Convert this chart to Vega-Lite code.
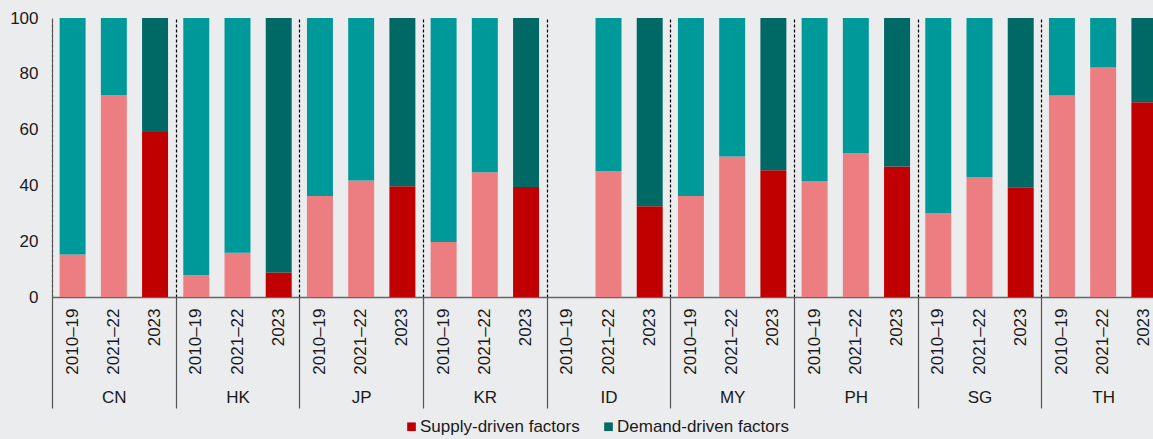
{
  "$schema": "https://vega.github.io/schema/vega-lite/v6.json",
  "autosize": "none",
  "width": 1101,
  "height": 279,
  "padding": {"left": 52, "top": 18, "right": 0, "bottom": 142},
  "background": "#ebecee",
  "config": {
    "font": "Liberation Sans",
    "view": {"stroke": null},
    "axis": {"labelFont": "Liberation Sans", "labelColor": "#1a1a1a", "labelFontSize": 17},
    "legend": {"labelFont": "Liberation Sans", "labelColor": "#1a1a1a", "labelFontSize": 17}
  },
  "datasets": {
    "bars": [
      {"key": "CN|2010–19", "country": "CN", "period": "2010–19", "factor": "Supply", "series": "Supply light", "value": 15.2},
      {"key": "CN|2010–19", "country": "CN", "period": "2010–19", "factor": "Demand", "series": "Demand light", "value": 84.8},
      {"key": "CN|2021–22", "country": "CN", "period": "2021–22", "factor": "Supply", "series": "Supply light", "value": 72.4},
      {"key": "CN|2021–22", "country": "CN", "period": "2021–22", "factor": "Demand", "series": "Demand light", "value": 27.6},
      {"key": "CN|2023", "country": "CN", "period": "2023", "factor": "Supply", "series": "Supply-driven factors", "value": 59.1},
      {"key": "CN|2023", "country": "CN", "period": "2023", "factor": "Demand", "series": "Demand-driven factors", "value": 40.9},

      {"key": "HK|2010–19", "country": "HK", "period": "2010–19", "factor": "Supply", "series": "Supply light", "value": 7.9},
      {"key": "HK|2010–19", "country": "HK", "period": "2010–19", "factor": "Demand", "series": "Demand light", "value": 92.1},
      {"key": "HK|2021–22", "country": "HK", "period": "2021–22", "factor": "Supply", "series": "Supply light", "value": 15.9},
      {"key": "HK|2021–22", "country": "HK", "period": "2021–22", "factor": "Demand", "series": "Demand light", "value": 84.1},
      {"key": "HK|2023", "country": "HK", "period": "2023", "factor": "Supply", "series": "Supply-driven factors", "value": 8.8},
      {"key": "HK|2023", "country": "HK", "period": "2023", "factor": "Demand", "series": "Demand-driven factors", "value": 91.2},

      {"key": "JP|2010–19", "country": "JP", "period": "2010–19", "factor": "Supply", "series": "Supply light", "value": 36.2},
      {"key": "JP|2010–19", "country": "JP", "period": "2010–19", "factor": "Demand", "series": "Demand light", "value": 63.8},
      {"key": "JP|2021–22", "country": "JP", "period": "2021–22", "factor": "Supply", "series": "Supply light", "value": 41.8},
      {"key": "JP|2021–22", "country": "JP", "period": "2021–22", "factor": "Demand", "series": "Demand light", "value": 58.2},
      {"key": "JP|2023", "country": "JP", "period": "2023", "factor": "Supply", "series": "Supply-driven factors", "value": 39.7},
      {"key": "JP|2023", "country": "JP", "period": "2023", "factor": "Demand", "series": "Demand-driven factors", "value": 60.3},

      {"key": "KR|2010–19", "country": "KR", "period": "2010–19", "factor": "Supply", "series": "Supply light", "value": 19.7},
      {"key": "KR|2010–19", "country": "KR", "period": "2010–19", "factor": "Demand", "series": "Demand light", "value": 80.3},
      {"key": "KR|2021–22", "country": "KR", "period": "2021–22", "factor": "Supply", "series": "Supply light", "value": 44.7},
      {"key": "KR|2021–22", "country": "KR", "period": "2021–22", "factor": "Demand", "series": "Demand light", "value": 55.3},
      {"key": "KR|2023", "country": "KR", "period": "2023", "factor": "Supply", "series": "Supply-driven factors", "value": 39.4},
      {"key": "KR|2023", "country": "KR", "period": "2023", "factor": "Demand", "series": "Demand-driven factors", "value": 60.6},

      {"key": "ID|2010–19", "country": "ID", "period": "2010–19", "factor": "Supply", "series": "Supply light", "value": 0},
      {"key": "ID|2010–19", "country": "ID", "period": "2010–19", "factor": "Demand", "series": "Demand light", "value": 0},
      {"key": "ID|2021–22", "country": "ID", "period": "2021–22", "factor": "Supply", "series": "Supply light", "value": 45.2},
      {"key": "ID|2021–22", "country": "ID", "period": "2021–22", "factor": "Demand", "series": "Demand light", "value": 54.8},
      {"key": "ID|2023", "country": "ID", "period": "2023", "factor": "Supply", "series": "Supply-driven factors", "value": 32.5},
      {"key": "ID|2023", "country": "ID", "period": "2023", "factor": "Demand", "series": "Demand-driven factors", "value": 67.5},

      {"key": "MY|2010–19", "country": "MY", "period": "2010–19", "factor": "Supply", "series": "Supply light", "value": 36.2},
      {"key": "MY|2010–19", "country": "MY", "period": "2010–19", "factor": "Demand", "series": "Demand light", "value": 63.8},
      {"key": "MY|2021–22", "country": "MY", "period": "2021–22", "factor": "Supply", "series": "Supply light", "value": 50.4},
      {"key": "MY|2021–22", "country": "MY", "period": "2021–22", "factor": "Demand", "series": "Demand light", "value": 49.6},
      {"key": "MY|2023", "country": "MY", "period": "2023", "factor": "Supply", "series": "Supply-driven factors", "value": 45.4},
      {"key": "MY|2023", "country": "MY", "period": "2023", "factor": "Demand", "series": "Demand-driven factors", "value": 54.6},

      {"key": "PH|2010–19", "country": "PH", "period": "2010–19", "factor": "Supply", "series": "Supply light", "value": 41.6},
      {"key": "PH|2010–19", "country": "PH", "period": "2010–19", "factor": "Demand", "series": "Demand light", "value": 58.4},
      {"key": "PH|2021–22", "country": "PH", "period": "2021–22", "factor": "Supply", "series": "Supply light", "value": 51.5},
      {"key": "PH|2021–22", "country": "PH", "period": "2021–22", "factor": "Demand", "series": "Demand light", "value": 48.5},
      {"key": "PH|2023", "country": "PH", "period": "2023", "factor": "Supply", "series": "Supply-driven factors", "value": 46.8},
      {"key": "PH|2023", "country": "PH", "period": "2023", "factor": "Demand", "series": "Demand-driven factors", "value": 53.2},

      {"key": "SG|2010–19", "country": "SG", "period": "2010–19", "factor": "Supply", "series": "Supply light", "value": 30.0},
      {"key": "SG|2010–19", "country": "SG", "period": "2010–19", "factor": "Demand", "series": "Demand light", "value": 70.0},
      {"key": "SG|2021–22", "country": "SG", "period": "2021–22", "factor": "Supply", "series": "Supply light", "value": 43.0},
      {"key": "SG|2021–22", "country": "SG", "period": "2021–22", "factor": "Demand", "series": "Demand light", "value": 57.0},
      {"key": "SG|2023", "country": "SG", "period": "2023", "factor": "Supply", "series": "Supply-driven factors", "value": 39.3},
      {"key": "SG|2023", "country": "SG", "period": "2023", "factor": "Demand", "series": "Demand-driven factors", "value": 60.7},

      {"key": "TH|2010–19", "country": "TH", "period": "2010–19", "factor": "Supply", "series": "Supply light", "value": 72.2},
      {"key": "TH|2010–19", "country": "TH", "period": "2010–19", "factor": "Demand", "series": "Demand light", "value": 27.8},
      {"key": "TH|2021–22", "country": "TH", "period": "2021–22", "factor": "Supply", "series": "Supply light", "value": 82.3},
      {"key": "TH|2021–22", "country": "TH", "period": "2021–22", "factor": "Demand", "series": "Demand light", "value": 17.7},
      {"key": "TH|2023", "country": "TH", "period": "2023", "factor": "Supply", "series": "Supply-driven factors", "value": 69.8},
      {"key": "TH|2023", "country": "TH", "period": "2023", "factor": "Demand", "series": "Demand-driven factors", "value": 30.2}
    ],
    "countries": [
      {"country": "CN"}, {"country": "HK"}, {"country": "JP"}, {"country": "KR"}, {"country": "ID"},
      {"country": "MY"}, {"country": "PH"}, {"country": "SG"}, {"country": "TH"}
    ]
  },
  "layer": [
    {
      "data": {"name": "bars"},
      "mark": {"type": "bar", "clip": true},
      "encoding": {
        "x": {
          "field": "key",
          "type": "nominal",
          "sort": null,
          "scale": {"range": [0, 1113], "paddingInner": 0.37, "paddingOuter": 0.185},
          "axis": {
            "title": null,
            "orient": "bottom",
            "labelExpr": "split(datum.value, '|')[1]",
            "labelAngle": -90,
            "labelAlign": "right",
            "labelBaseline": "middle",
            "labelPadding": 11,
            "ticks": false,
            "domainColor": "#666666",
            "domainWidth": 1.5,
            "grid": false
          }
        },
        "y": {
          "field": "value",
          "type": "quantitative",
          "stack": "zero",
          "scale": {"domain": [0, 100], "nice": false},
          "axis": {
            "title": null,
            "values": [0, 20, 40, 60, 80, 100],
            "ticks": false,
            "grid": false,
            "labelPadding": 14,
            "domainColor": "#555555",
            "zindex": 1
          }
        },
        "color": {
          "field": "series",
          "type": "nominal",
          "scale": {
            "domain": ["Supply-driven factors", "Demand-driven factors", "Supply light", "Demand light"],
            "range": ["#c00000", "#006966", "#ec7d81", "#009999"]
          },
          "legend": {
            "title": null,
            "orient": "none",
            "legendX": 351,
            "legendY": 400,
            "direction": "horizontal",
            "values": ["Supply-driven factors", "Demand-driven factors"],
            "symbolType": "square",
            "symbolSize": 75,
            "symbolStrokeWidth": 0,
            "labelOffset": 0,
            "labelLimit": 0,
            "columnPadding": 20
          }
        },
        "order": {"field": "factor", "sort": "descending"}
      }
    },
    {
      "data": {"name": "countries"},
      "mark": {"type": "rule", "strokeOpacity": 0},
      "encoding": {
        "x": {
          "field": "country",
          "type": "nominal",
          "sort": null,
          "scale": {"type": "band", "range": [0, 1113], "paddingInner": 0, "paddingOuter": 0},
          "axis": {
            "title": null,
            "orient": "bottom",
            "domain": false,
            "ticks": true,
            "tickBand": "extent",
            "tickSize": 111,
            "tickColor": "#555555",
            "tickWidth": 1.2,
            "grid": true,
            "gridDash": [3, 2],
            "gridColor": "#000000",
            "gridWidth": 1.2,
            "labelAngle": 0,
            "labelPadding": -19,
            "labelBaseline": "top"
          }
        }
      }
    }
  ],
  "resolve": {"scale": {"x": "independent", "color": "independent"}, "axis": {"x": "independent"}}
}
